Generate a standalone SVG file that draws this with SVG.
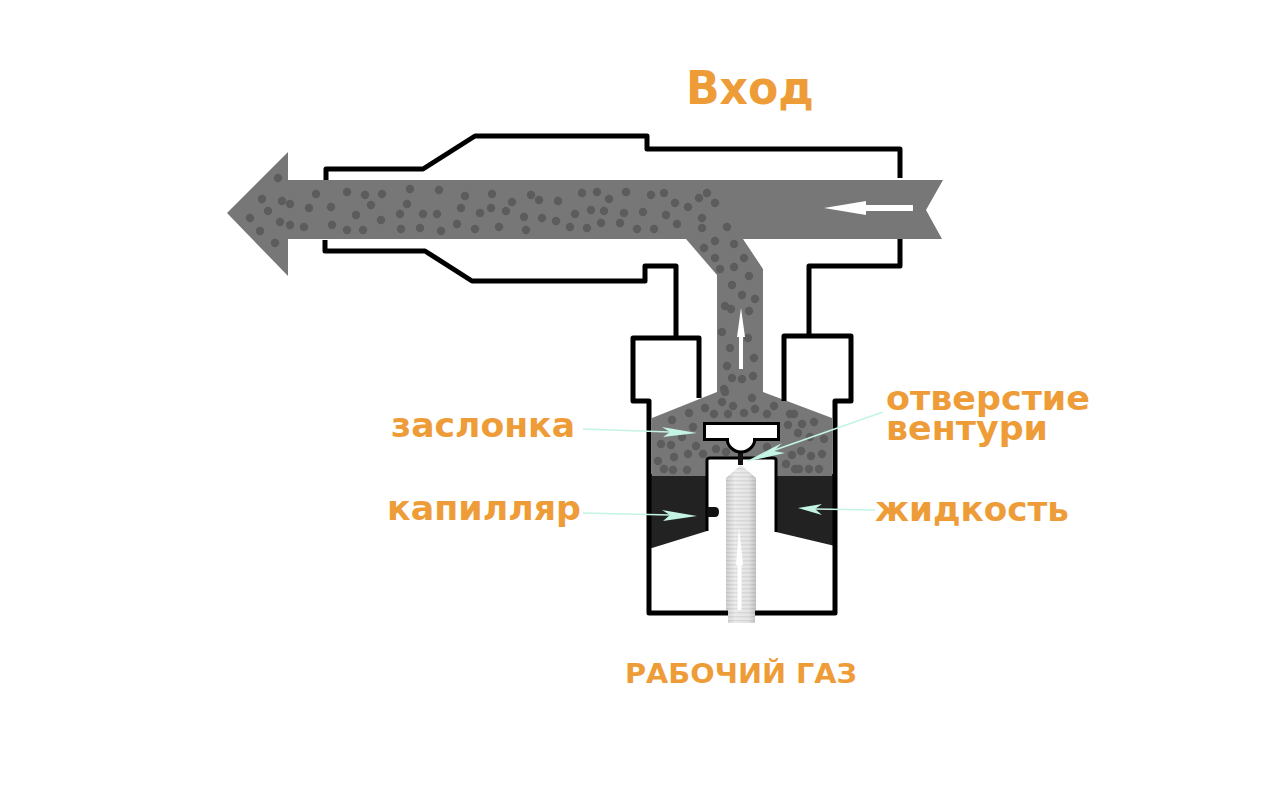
<svg xmlns="http://www.w3.org/2000/svg" width="1280" height="800" viewBox="0 0 1280 800">
<style>
.w{fill:none;stroke:#000;stroke-width:5;stroke-linejoin:round}
.g{fill:#777}
.d circle{fill:#5c5c5c;r:4.2px}
.t{font-family:"DejaVu Sans",sans-serif;font-weight:700;fill:#ee9c38;font-size:33px}
.a{fill:#c4f4e4}
.l{stroke:#c4f4e4;stroke-width:1.6;fill:none}
</style>
<defs>
<linearGradient id="cap" x1="0" x2="1" y1="0" y2="0">
<stop offset="0" stop-color="#d0d0d0"/><stop offset=".3" stop-color="#ececec"/><stop offset=".75" stop-color="#e4e4e4"/><stop offset="1" stop-color="#c4c4c4"/>
</linearGradient>
<pattern id="rib" width="4" height="4" patternUnits="userSpaceOnUse">
<rect width="4" height="1.4" fill="#000" opacity=".07"/>
</pattern>
</defs>
<rect width="1280" height="800" fill="#fff"/>
<g id="liquid">
<path d="M649 474H707V531L652 548H649ZM776 474H835V546L776 532Z" fill="#222"/>
</g>
<g id="flow">
<path class="g" d="M227 213L288 152V180H943L926 210L942 239H743L763 269V392L832 418V476H776V458H707V476H652V418L717 392V275L686 239H288V276Z"/>
</g>
<g id="particles" class="d">
<circle cx="278" cy="178"/><circle cx="262" cy="199"/><circle cx="282" cy="201"/><circle cx="290" cy="204"/><circle cx="268" cy="211"/><circle cx="250" cy="218"/><circle cx="280" cy="222"/><circle cx="290" cy="225"/><circle cx="304" cy="227"/><circle cx="260" cy="231"/><circle cx="275" cy="243"/><circle cx="316" cy="194"/><circle cx="309" cy="208"/><circle cx="331" cy="207"/><circle cx="332" cy="225"/><circle cx="347" cy="192"/><circle cx="365" cy="195"/><circle cx="382" cy="194"/><circle cx="371" cy="205"/><circle cx="356" cy="215"/><circle cx="347" cy="230"/><circle cx="363" cy="230"/><circle cx="381" cy="220"/><circle cx="410" cy="189"/><circle cx="407" cy="204"/><circle cx="400" cy="214"/><circle cx="401" cy="229"/><circle cx="420" cy="228"/><circle cx="423" cy="214"/><circle cx="437" cy="214"/><circle cx="439" cy="190"/><circle cx="441" cy="231"/><circle cx="465" cy="196"/><circle cx="461" cy="208"/><circle cx="457" cy="224"/><circle cx="475" cy="229"/><circle cx="480" cy="213"/><circle cx="492" cy="194"/><circle cx="491" cy="208"/><circle cx="499" cy="227"/><circle cx="506" cy="211"/><circle cx="512" cy="202"/><circle cx="524" cy="217"/><circle cx="526" cy="230"/><circle cx="531" cy="195"/><circle cx="539" cy="200"/><circle cx="542" cy="218"/><circle cx="556" cy="221"/><circle cx="558" cy="201"/><circle cx="570" cy="227"/><circle cx="575" cy="214"/><circle cx="582" cy="193"/><circle cx="597" cy="192"/><circle cx="609" cy="199"/><circle cx="591" cy="210"/><circle cx="604" cy="211"/><circle cx="601" cy="223"/><circle cx="587" cy="228"/><circle cx="620" cy="223"/>
<circle cx="626" cy="192"/><circle cx="624" cy="213"/><circle cx="651" cy="195"/><circle cx="664" cy="193"/><circle cx="643" cy="212"/><circle cx="637" cy="229"/><circle cx="654" cy="229"/><circle cx="666" cy="215"/><circle cx="677" cy="224"/><circle cx="675" cy="203"/><circle cx="688" cy="207"/><circle cx="699" cy="198"/><circle cx="707" cy="193"/><circle cx="715" cy="203"/><circle cx="702" cy="218"/><circle cx="702" cy="228"/><circle cx="727" cy="227"/>
<circle cx="715" cy="241"/><circle cx="734" cy="244"/><circle cx="704" cy="248"/><circle cx="715" cy="258"/><circle cx="744" cy="258"/><circle cx="720" cy="269"/><circle cx="734" cy="267"/><circle cx="749" cy="276"/><circle cx="732" cy="285"/><circle cx="742" cy="295"/><circle cx="755" cy="299"/><circle cx="725" cy="306"/><circle cx="731" cy="309"/><circle cx="749" cy="311"/><circle cx="722" cy="332"/><circle cx="748" cy="338"/><circle cx="730" cy="348"/><circle cx="754" cy="358"/><circle cx="727" cy="366"/><circle cx="732" cy="378"/><circle cx="742" cy="379"/><circle cx="753" cy="376"/><circle cx="724" cy="389"/>
<circle cx="725" cy="392"/><circle cx="752" cy="398"/><circle cx="722" cy="402"/><circle cx="733" cy="406"/><circle cx="705" cy="408"/><circle cx="714" cy="414"/><circle cx="728" cy="414"/><circle cx="744" cy="413"/><circle cx="755" cy="409"/><circle cx="767" cy="414"/><circle cx="774" cy="406"/><circle cx="689" cy="413"/><circle cx="672" cy="420"/><circle cx="693" cy="427"/><circle cx="790" cy="414"/><circle cx="794" cy="414"/><circle cx="814" cy="422"/><circle cx="788" cy="425"/><circle cx="802" cy="424"/><circle cx="798" cy="433"/><circle cx="810" cy="437"/><circle cx="824" cy="439"/><circle cx="661" cy="444"/><circle cx="671" cy="445"/><circle cx="682" cy="437"/><circle cx="696" cy="446"/><circle cx="674" cy="457"/><circle cx="688" cy="454"/><circle cx="703" cy="454"/><circle cx="716" cy="449"/><circle cx="726" cy="452"/><circle cx="767" cy="447"/><circle cx="792" cy="455"/><circle cx="801" cy="451"/><circle cx="811" cy="456"/><circle cx="822" cy="454"/><circle cx="786" cy="464"/><circle cx="658" cy="461"/><circle cx="664" cy="469"/><circle cx="673" cy="470"/><circle cx="687" cy="470"/><circle cx="795" cy="469"/><circle cx="799" cy="469"/><circle cx="809" cy="469"/><circle cx="819" cy="469"/>
</g>
<g id="walls">
<path class="w" d="M326 180V169H423L475 136H647V149H900V178"/>
<path class="w" d="M325 240V251H425L472 281H645V266H676V338"/>
<path class="w" d="M900 239V266H809V335"/>
<path class="w" d="M676 338H633V401H649V613H835V401H851V336H784V401"/>
<path class="w" d="M676 338H699V398"/>
<path d="M707 531V460Q707 458 710 458H773Q776 458 776 460V532" fill="none" stroke="#000" stroke-width="3"/>
<path d="M707 507H715Q719 507 719 512Q719 517 715 517H707Z" fill="#111"/>
</g>
<g id="valve">
<rect x="738" y="452" width="5" height="13" fill="#111"/>
<path d="M727 438A14 14 0 0 0 755 438Z" fill="#fff" stroke="#000" stroke-width="3"/>
<rect x="704.500" y="423.500" width="74" height="16" fill="#fff" stroke="#000" stroke-width="3"/>
<rect x="729" y="437" width="24" height="4" fill="#fff"/>
</g>
<g id="capillary">
<path d="M726 478L741 465L756 478V610H755V623H728V610H726Z" fill="url(#cap)"/>
<path d="M726 478L741 465L756 478V610H755V623H728V610H726Z" fill="url(#rib)"/>
<path d="M739 527L743 565H741.500V610H737.500V565H736Z" fill="#fff"/>
</g>
<g id="flow-arrows" fill="#fff">
<path d="M824 208L866 201V205H913V211H866V215Z"/>
<path d="M741 308L745 337H743V369H739V337H737Z"/>
</g>
<g id="callouts">
<path class="l" d="M583 429L670 432"/>
<path class="a" d="M697 433L662 427L670 432L663 437Z"/>
<path class="l" d="M583 513L670 515"/>
<path class="a" d="M697 516L662 510L670 515L663 521Z"/>
<path class="l" d="M875 510L815 509"/>
<path class="a" d="M798 508L822 504L815 509L822 515Z"/>
<path class="l" d="M883 412L772 451"/>
<path class="a" d="M745 462L782 443L774 451L785 453Z"/>
</g>
<g id="labels">
<text class="t" x="686" y="104" style="font-size:46px" textLength="128" lengthAdjust="spacingAndGlyphs">Вход</text>
<text class="t" x="391" y="437" textLength="184" lengthAdjust="spacingAndGlyphs">заслонка</text>
<text class="t" x="387" y="520" textLength="194" lengthAdjust="spacingAndGlyphs">капилляр</text>
<text class="t" x="886" y="410" textLength="204" lengthAdjust="spacingAndGlyphs">отверстие</text>
<text class="t" x="886" y="440" textLength="162" lengthAdjust="spacingAndGlyphs">вентури</text>
<text class="t" x="875" y="521" textLength="194" lengthAdjust="spacingAndGlyphs">жидкость</text>
<text class="t" x="625" y="683" style="font-size:27px" textLength="232" lengthAdjust="spacingAndGlyphs">РАБОЧИЙ ГАЗ</text>
</g>
</svg>
